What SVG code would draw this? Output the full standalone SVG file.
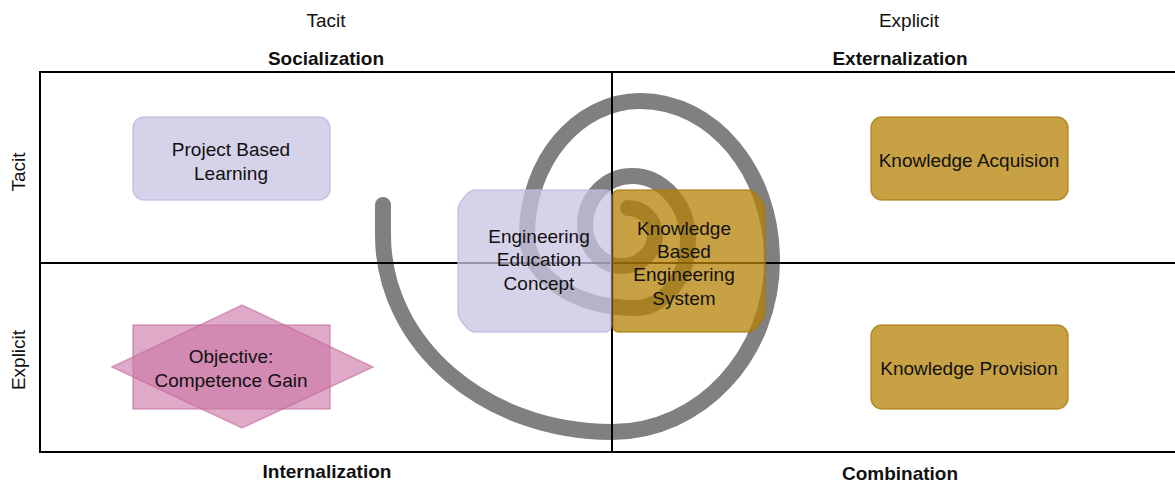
<svg xmlns="http://www.w3.org/2000/svg" width="1175" height="483" viewBox="0 0 1175 483">
  <style>
    .lbl { font-family: "Liberation Sans", Arial, sans-serif; font-size: 19px; fill: #111; text-anchor: middle; dominant-baseline: central; }
    .hdr { font-family: "Liberation Sans", Arial, sans-serif; font-size: 19px; font-weight: bold; fill: #111; text-anchor: middle; dominant-baseline: central; }
    .node { font-family: "Liberation Sans", Arial, sans-serif; font-size: 19px; fill: #111; text-anchor: middle; dominant-baseline: central; }
    .grid { stroke: #000; stroke-width: 2; fill: none; }
    .lilac { fill: #c8c3e3; fill-opacity: 0.75; stroke: #bdb7dc; stroke-opacity: 0.75; stroke-width: 1.5; }
    .gold { fill: #b68206; fill-opacity: 0.75; stroke: #a87a0a; stroke-opacity: 0.75; stroke-width: 1.5; }
    .pink { fill: #cb76a4; fill-opacity: 0.62; stroke: #c46a9c; stroke-opacity: 0.6; stroke-width: 1.5; }
  </style>

  <!-- axis labels -->
  <text class="lbl" x="326" y="20">Tacit</text>
  <text class="lbl" x="909" y="20">Explicit</text>
  <text class="hdr" x="326" y="58">Socialization</text>
  <text class="hdr" x="900" y="58">Externalization</text>
  <text class="hdr" x="327" y="471">Internalization</text>
  <text class="hdr" x="900" y="473">Combination</text>
  <text class="lbl" transform="translate(18,172) rotate(-90)">Tacit</text>
  <text class="lbl" transform="translate(18,360) rotate(-90)">Explicit</text>

  <!-- knowledge spiral -->
  <path id="spiral" fill="none" stroke="#808080" stroke-width="16" stroke-linecap="round"
        d="M383,205 L383,235
           C383,344 485,432 612,432
           C700,432 772,355 772,260
           C772,172 713,101 640,101
           C578,101 527,161 527,235
           C527,275 575,308 635,308
           C664,308 688,278 688,240
           C688,205 663,176 632,176
           C606,176 585,198 585,225
           C585,248 602,266 622,266
           C640,266 655,252 655,235
           C655,220 643,208 628,208"/>

  <!-- quadrant grid -->
  <g id="connectors">
    <path class="grid" d="M40,72 H1175 M40,263 H1175 M40,452 H1175 M40,71 V453 M612,72 V452"/>
  </g>

  <g id="project-based-learning">
    <rect class="lilac" x="133" y="117" width="197" height="83" rx="11"/>
    <text class="node" x="231" y="149">Project Based</text>
    <text class="node" x="231" y="173">Learning</text>
  </g>

  <g id="engineering-education-concept">
    <path class="lilac" d="M476,190 H605 Q611,190 611,196 V326 Q611,332 605,332 H476 Q470,332 466,327 L462,322 Q458,317 458,311 V211 Q458,205 462,200 L466,195 Q470,190 476,190 Z"/>
    <text class="node" x="539" y="236">Engineering</text>
    <text class="node" x="539" y="259">Education</text>
    <text class="node" x="539" y="283">Concept</text>
  </g>

  <g id="knowledge-based-engineering-system">
    <path class="gold" d="M619,190 H747 Q753,190 757,195 L761,200 Q765,205 765,211 V311 Q765,317 761,322 L757,327 Q753,332 747,332 H619 Q613,332 613,326 V196 Q613,190 619,190 Z"/>
    <text class="node" x="684" y="228">Knowledge</text>
    <text class="node" x="684" y="251">Based</text>
    <text class="node" x="684" y="274">Engineering</text>
    <text class="node" x="684" y="298">System</text>
  </g>

  <g id="knowledge-acquisition">
    <rect class="gold" x="871" y="117" width="197" height="83" rx="11"/>
    <text class="node" x="969" y="160">Knowledge Acquision</text>
  </g>

  <g id="knowledge-provision">
    <rect class="gold" x="871" y="325" width="197" height="84" rx="11"/>
    <text class="node" x="969" y="368">Knowledge Provision</text>
  </g>

  <g id="objective-competence-gain">
    <rect class="pink" x="133" y="325" width="197" height="84"/>
    <polygon class="pink" points="112,367 242,305 373,367 242,428"/>
    <text class="node" x="231" y="356">Objective:</text>
    <text class="node" x="231" y="380">Competence Gain</text>
  </g>
</svg>
